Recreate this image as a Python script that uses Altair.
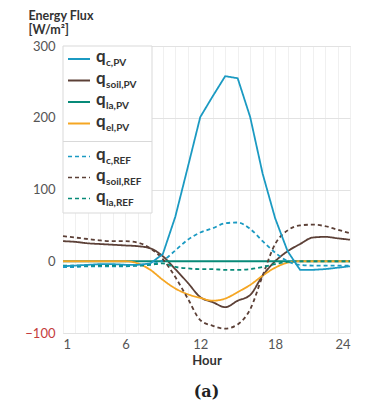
import altair as alt
import pandas as pd

hours = list(range(1, 25))

qc_pv     = [-7, -6, -5, -4, -4, -5, -5, -3, 10, 62, 131, 201, 230, 258, 255, 201, 122, 60, 14, -12, -12, -11, -9, -7]
qsoil_pv  = [28, 27, 25, 24, 23, 22, 21, 18, 7, -11, -30, -50, -57, -64, -55, -47, -20, 0, 14, 24, 33, 34, 32, 30]
qla_pv    = [0] * 24
qel_pv    = [0, 0, 0, 0, 0, 0, -3, -12, -26, -38, -46, -51, -55, -52, -43, -33, -20, -9, -2, 0, 0, 0, 0, 0]
qc_ref    = [-8, -8, -7, -7, -7, -7, -6, -4, 1, 15, 30, 40, 46, 53, 54, 45, 28, 12, 0, -5, -6, -6, -6, -6]
qsoil_ref = [35, 33, 31, 29, 28, 28, 26, 18, 3, -22, -52, -82, -90, -94, -88, -67, -20, 24, 43, 50, 51, 49, 44, 39]
qla_ref   = [-6, -6, -6, -6, -6, -6, -6, -5, -3, -8, -10, -11, -11, -12, -12, -11, -8, -4, -1, 0, 0, 0, 0, 0]

series_names = ["qc_PV", "qsoil_PV", "qla_PV", "qel_PV", "qc_REF", "qsoil_REF", "qla_REF"]
series_vals = [qc_pv, qsoil_pv, qla_pv, qel_pv, qc_ref, qsoil_ref, qla_ref]
subscripts = ["c,PV", "soil,PV", "la,PV", "el,PV", "c,REF", "soil,REF", "la,REF"]

BLUE, BROWN, TEAL, ORANGE = "#1b9ac2", "#5c4037", "#078a78", "#f5a623"
colors = [BLUE, BROWN, TEAL, ORANGE, BLUE, BROWN, TEAL]
dashes = [[1, 0]] * 4 + [[4, 3]] * 3
widths = [1.8] * 4 + [1.4] * 3

x_labels = [1, 6, 12, 18, 24]
y_ticks = [-100, 0, 100, 200, 300]

rows = []
for name, vals in zip(series_names, series_vals):
    for h, v in zip(hours, vals):
        rows.append({"hour": h, "series": name, "value": v})
df = pd.DataFrame(rows)

W, H = 287, 287
FONT = "Lato"

x_enc = alt.X("hour:Q",
              scale=alt.Scale(domain=[1, 24], nice=False, zero=False),
              axis=alt.Axis(values=hours,
                            labelExpr="indexof([1,6,12,18,24], datum.value) >= 0 ? datum.label : ''",
                            title="Hour", grid=True, gridColor="#f0f0f0", domain=False,
                            ticks=False, labelPadding=5, labelFontSize=13, labelColor="#555555",
                            labelFont=FONT, titleFont=FONT, titleFontSize=13,
                            titleFontWeight="bold", titleColor="#333333", titlePadding=3))
y_enc = alt.Y("value:Q",
              scale=alt.Scale(domain=[-100, 300], nice=False),
              axis=alt.Axis(values=y_ticks, title=["Energy Flux", "[W/m²]"],
                            titleAngle=0, titleAlign="left", titleBaseline="top",
                            titleX=-35, titleY=-37, titleFont=FONT, titleFontSize=12.5,
                            titleFontWeight="bold", titleColor="#333333", titleLineHeight=14,
                            grid=True, gridColor="#e2e2e2", domain=False, ticks=False,
                            labelPadding=8, labelFontSize=13, labelFont=FONT,
                            labelColor={"condition": {"test": "datum.value == -100", "value": "#c43c3c"},
                                        "value": "#555555"}))
color_enc = alt.Color("series:N", scale=alt.Scale(domain=series_names, range=colors), legend=None)
dash_enc = alt.StrokeDash("series:N", scale=alt.Scale(domain=series_names, range=dashes), legend=None)
size_enc = alt.Size("series:N", scale=alt.Scale(domain=series_names, range=widths), legend=None)

smooth_lines = alt.Chart(df).transform_filter("datum.series != 'qc_PV'").mark_line(
    interpolate="monotone"
).encode(x=x_enc, y=y_enc, color=color_enc, strokeDash=dash_enc, size=size_enc)

pv_line = alt.Chart(df).transform_filter("datum.series == 'qc_PV'").mark_line(
    interpolate="linear"
).encode(x=x_enc, y=y_enc, color=color_enc, strokeDash=dash_enc, size=size_enc)

lines = alt.layer(smooth_lines, pv_line)

# Legend (drawn manually inside the plot area)
leg_y = [13, 34.5, 56, 77.5, 110.5, 131.5, 152.5]
leg_df = pd.DataFrame({
    "ly": leg_y,
    "lc": colors,
    "dashed": [False] * 4 + [True] * 3,
    "sub": subscripts,
    "q": ["q"] * 7,
})

box = alt.Chart(pd.DataFrame({"a": [0]})).mark_rect(
    fill="white", stroke="#d9d9d9", strokeWidth=1
).encode(x=alt.value(0), x2=alt.value(89), y=alt.value(0), y2=alt.value(167))

divider = alt.Chart(pd.DataFrame({"a": [0]})).mark_rule(
    color="#d9d9d9", strokeWidth=1
).encode(x=alt.value(0), x2=alt.value(89), y=alt.value(95.5))

leg_solid = alt.Chart(leg_df).transform_filter("!datum.dashed").mark_rule(strokeWidth=2).encode(
    x=alt.value(5), x2=alt.value(27),
    y=alt.Y("ly:Q", scale=None),
    color=alt.Color("lc:N", scale=None),
)
leg_dash = alt.Chart(leg_df).transform_filter("datum.dashed").mark_rule(
    strokeWidth=1.6, strokeDash=[4, 3]
).encode(
    x=alt.value(5), x2=alt.value(27),
    y=alt.Y("ly:Q", scale=None),
    color=alt.Color("lc:N", scale=None),
)
leg_q = alt.Chart(leg_df).mark_text(
    align="left", baseline="middle", font=FONT, fontSize=17, fontWeight="bold",
    color="#333333", dy=-2
).encode(x=alt.value(33), y=alt.Y("ly:Q", scale=None), text="q:N")
leg_sub = alt.Chart(leg_df).mark_text(
    align="left", baseline="middle", font=FONT, fontSize=10, fontWeight="bold",
    color="#333333", dy=4
).encode(x=alt.value(43), y=alt.Y("ly:Q", scale=None), text="sub:N")

caption = alt.Chart(pd.DataFrame({"t": ["(a)"]})).mark_text(
    align="center", baseline="middle", font="DejaVu Serif", fontSize=16,
    fontWeight="bold", color="#222222"
).encode(x=alt.value(W / 2), y=alt.value(346), text="t:N")

chart = alt.layer(lines, box, divider, leg_solid, leg_dash, leg_q, leg_sub, caption).resolve_scale(
    color="independent", y="independent"
).properties(
    width=W, height=H,
    autosize=alt.AutoSizeParams(type="none"),
    padding={"left": 55, "top": 38, "right": 20, "bottom": 68},
).configure_view(
    stroke="#d0d0d0", strokeWidth=1
).configure(background="white")

chart.save("out.html", embed_options={"renderer": "svg", "actions": False})
